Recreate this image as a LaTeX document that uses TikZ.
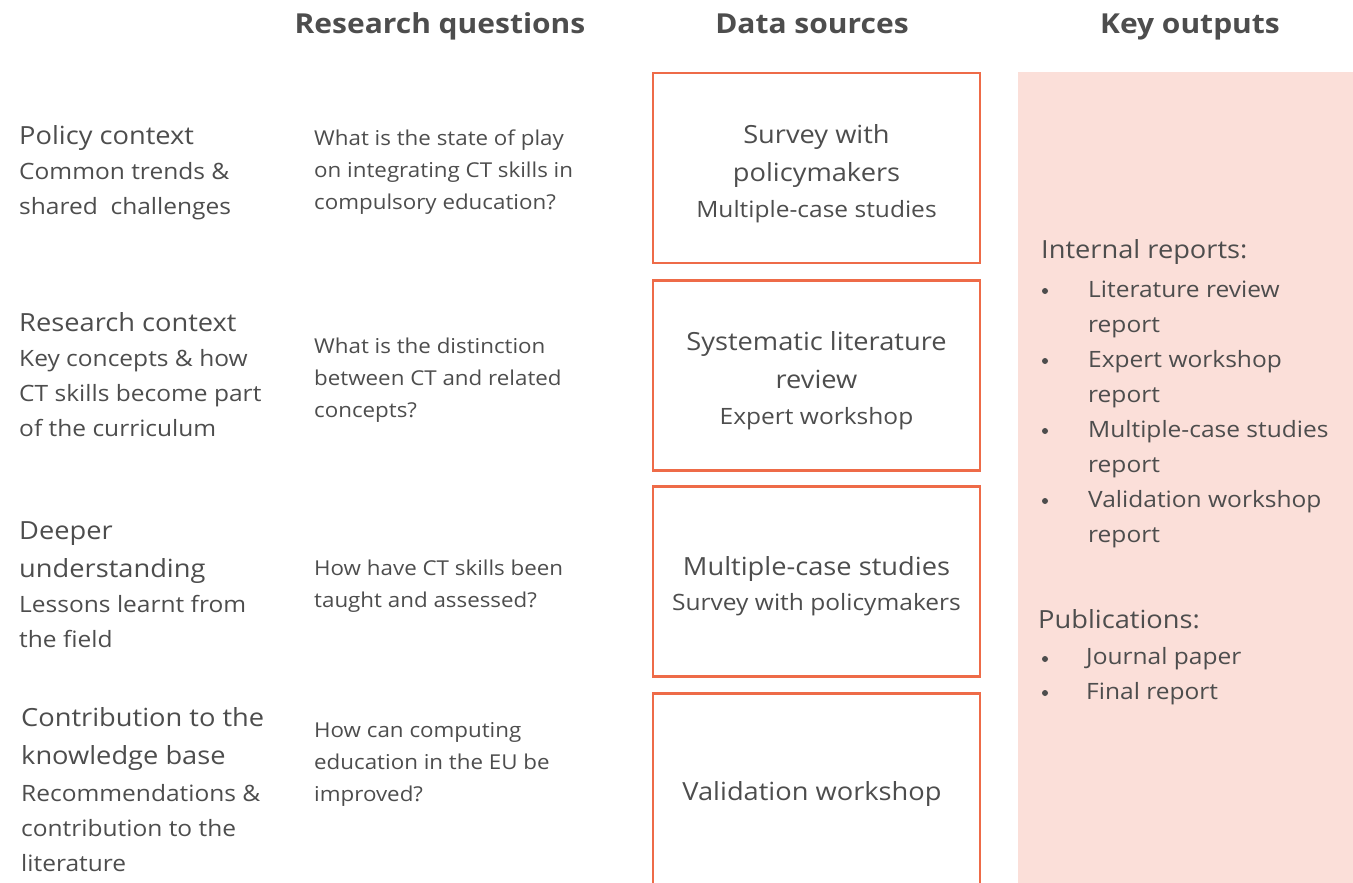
\documentclass[tikz,border=0pt]{standalone}
\usepackage{fontspec}
\setmainfont{Open Sans}[FakeStretch=1.09]
\usetikzlibrary{positioning}
\definecolor{tgray}{HTML}{4D4D4D}
\definecolor{eorange}{HTML}{EE6B48}
\definecolor{epink}{HTML}{FBDFD9}
% font sizes, 1pt is one pixel of the picture
\newcommand{\headfont}{\fontsize{27.5}{34}\selectfont\bfseries}
\newcommand{\titlefont}{\fontsize{25}{38}\selectfont}
\newcommand{\bodyfont}{\fontsize{22.5}{35}\selectfont}
\newcommand{\qfont}{\fontsize{20.5}{32}\selectfont}
\tikzset{%
    % column headings
    heading/.style={%
        font=\headfont,
        text=tgray,
        anchor=base,
        inner sep=0pt,
    },
    % plain text, left aligned (base is the last line)
    lefttext/.style={%
        text=tgray,
        anchor=base west,
        align=left,
        inner sep=0pt,
    },
    % titles of the rows
    topic/.style={lefttext, font=\titlefont},
    % explanation below a title
    topic text/.style={lefttext, font=\bodyfont},
    % research questions
    question/.style={lefttext, font=\qfont},
    % text inside the source boxes
    source title/.style={%
        text=tgray, font=\titlefont, align=center,
        anchor=base, inner sep=0pt,
    },
    source text/.style={source title, font=\bodyfont},
    % the orange boxes
    source box/.style={%
        draw=eorange,
        line width=2.5pt,
        minimum width=327pt,
        minimum height=190pt,
        inner sep=0pt,
    },
    % bullet of a list
    bullet/.style={%
        circle,
        fill=tgray,
        inner sep=0pt,
        minimum size=6pt,
    },
}

\begin{document}
\begin{tikzpicture}[x=1pt, y=-1pt]
    % size of the picture
    \useasboundingbox (0,0) rectangle (1353,883);
    \clip (0,0) rectangle (1353,883);
    % headings
    \node (hq) [heading] at (440,34) {Research questions};
    \node (hs) [heading] at (812,34) {Data sources};
    \node (ho) [heading] at (1190,34) {Key outputs};
    % left column
    \node (t1) [topic] at (19,144) {Policy context};
    \node (d1) [topic text] at (19,214) {Common trends \&\\shared\ \ challenges};
    \node (t2) [topic] at (19,331) {Research context};
    \node (d2) [topic text] at (19,436) {Key concepts \& how\\CT skills become part\\of the curriculum};
    \node (t3) [topic] at (19,577) {Deeper\\understanding};
    \node (d3) [topic text] at (19,647) {Lessons learnt from\\the field};
    \node (t4) [topic] at (21,764) {Contribution to the\\knowledge base};
    \node (d4) [topic text] at (21,871) {Recommendations \&\\contribution to the\\literature};
    % research questions
    \node (q1) [question] at (314,209) {What is the state of play\\on integrating CT skills in\\compulsory education?};
    \node (q2) [question] at (314,417) {What is the distinction\\between CT and related\\concepts?};
    \node (q3) [question] at (314,607) {How have CT skills been\\taught and assessed?};
    \node (q4) [question] at (314,801) {How can computing\\education in the EU be\\improved?};
    % data sources
    \node (s1) [source box] at (816.5,168) {};
    \node (s2) [source box] at (816.5,375.5) {};
    \node (s3) [source box] at (816.5,581.5) {};
    %% the last box runs off the bottom edge
    \node (s4) [source box, minimum height=230pt] at (816.5,808.5) {};
    \node (s1t) [source title] at (816.5,181) {Survey with\\policymakers};
    \node (s1d) [source text] at (816.5,217) {Multiple-case studies};
    \node (s2t) [source title] at (816.5,388) {Systematic literature\\review};
    \node (s2d) [source text] at (816.5,424) {Expert workshop};
    \node (s3t) [source title] at (816.5,575) {Multiple-case studies};
    \node (s3d) [source text] at (816.5,610) {Survey with policymakers};
    \node (s4t) [source title] at (812,800) {Validation workshop};
    % key outputs
    \fill [epink] (1018,72) rectangle (1353,883);
    \node (ir) [topic] at (1041,258) {Internal reports:};
    \node (o1) [topic text] at (1088,542) {Literature review\\report\\Expert workshop\\report\\Multiple-case studies\\report\\Validation workshop\\report};
    \node (pb) [topic] at (1038,628) {Publications:};
    \node (o2) [topic text] at (1086,699) {Journal paper\\Final report};
    %% bullets
    \node (b1) [bullet] at (1045,291) {};
    \node (b2) [bullet] at (1045,361) {};
    \node (b3) [bullet] at (1045,431) {};
    \node (b4) [bullet] at (1045,501) {};
    \node (b5) [bullet] at (1045,659) {};
    \node (b6) [bullet] at (1045,693) {};
\end{tikzpicture}
\end{document}
